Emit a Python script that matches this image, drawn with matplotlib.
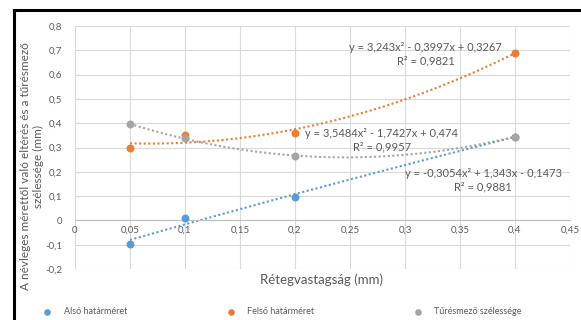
import matplotlib.pyplot as plt
from matplotlib.ticker import FuncFormatter, MultipleLocator
from matplotlib.lines import Line2D
import numpy as np

# data
retegvastagsag = [0.05, 0.1, 0.2, 0.4]
also = [-0.095, 0.01, 0.095, 0.345]
felso = [0.30, 0.35, 0.36, 0.69]
turesmezo = [0.395, 0.34, 0.265, 0.345]

series_names = ["Alsó határméret", "Felső határméret", "Tűrésmező szélessége"]
equations = [
    "y = -0,3054x² + 1,343x - 0,1473\nR² = 0,9881",
    "y = 3,243x² - 0,3997x + 0,3267\nR² = 0,9821",
    "y = 3,5484x² - 1,7427x + 0,474\nR² = 0,9957",
]
eq_pos = [(0.371, 0.165), (0.319, 0.685), (0.279, 0.331)]

colors = ['#5B9BD5', '#ED7D31', '#A5A5A5']
txt = '#595959'

plt.rcParams['font.family'] = ['Lato', 'DejaVu Sans']

fig = plt.figure(figsize=(5.81, 3.2), dpi=100)
ax = fig.add_axes([0.129, 0.159, 0.852, 0.76])

x = np.array(retegvastagsag)
xs = np.linspace(x.min(), x.max(), 100)
for vals, c, name in zip([also, felso, turesmezo], colors, series_names):
    coef = np.polyfit(x, vals, 2)
    ax.plot(xs, np.polyval(coef, xs), ls=(0, (1, 1.2)), color=c, lw=1.5, zorder=2)
    ax.scatter(x, vals, s=22, color=c, zorder=3, label=name)

for eq, (ex, ey) in zip(equations, eq_pos):
    ax.text(ex, ey, eq, ha='center', va='center', fontsize=8, color=txt,
            linespacing=1.3, multialignment='center', zorder=4)

ax.set_xlim(0, 0.45)
ax.set_ylim(-0.2, 0.8)
ax.xaxis.set_major_locator(MultipleLocator(0.05))
ax.yaxis.set_major_locator(MultipleLocator(0.1))
fmt = FuncFormatter(lambda v, p: f"{round(v, 3):g}".replace('.', ',') if abs(v) > 1e-9 else "0")
ax.xaxis.set_major_formatter(fmt)
ax.yaxis.set_major_formatter(fmt)
ax.grid(True, color='#D9D9D9', lw=0.8)
ax.set_axisbelow(True)
for s in ['top', 'right', 'left']:
    ax.spines[s].set_visible(False)
ax.spines['bottom'].set_position(('data', 0))
ax.spines['bottom'].set_color('#BFBFBF')
ax.tick_params(length=0, labelsize=7, colors=txt)
ax.tick_params(axis='y', pad=9)
ax.tick_params(axis='x', pad=4)

fig.text(0.554, 0.125, "Rétegvastagság (mm)", ha='center', va='center', fontsize=9.5, color=txt)
fig.text(0.055, 0.48, "A névleges mérettől való eltérés és a tűrésmező\nszélessége (mm)",
         ha='center', va='center', rotation=90, fontsize=8.5, color=txt, linespacing=1.2)

fig.legend(loc='center left', bbox_to_anchor=(0.052, 0.025), ncol=3, frameon=False,
           fontsize=6.5, labelcolor=txt, handletextpad=0.8, columnspacing=10.5,
           scatterpoints=1, markerscale=0.8)

# black border of the screenshot crop
fig.add_artist(Line2D([0.024, 1], [0.968, 0.968], color='black', lw=2.2, transform=fig.transFigure))
fig.add_artist(Line2D([0.024, 0.024], [0, 0.968], color='black', lw=2.2, transform=fig.transFigure))

fig.savefig("out.png", dpi=100)
